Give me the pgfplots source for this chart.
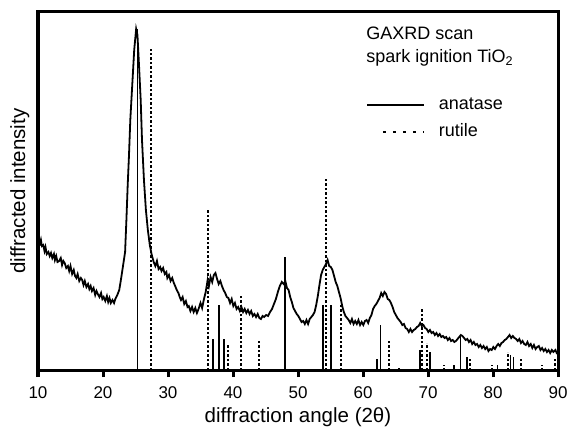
\documentclass[border=0pt]{standalone}
\usepackage{pgfplots}
\pgfplotsset{compat=1.18}
\usepackage{fontspec}
\setmainfont{Liberation Sans}
\begin{document}
\fontsize{18bp}{22bp}\selectfont
\begin{tikzpicture}
\begin{axis}[
  scale only axis, width=520bp, height=358bp,
  xmin=10, xmax=90, ymin=0, ymax=358,
  xtick={10,20,...,90}, ytick=\empty,
  xtick pos=left, tick align=outside,
  major tick length=7bp,
  every tick/.style={black, line width=3bp},
  axis line style={line width=3bp},
  /pgf/number format/assume math mode=true,
  xticklabel style={font=\fontsize{17bp}{20bp}\selectfont, inner sep=0pt,
    text height=12.2bp, text depth=0pt, anchor=north, yshift=-9bp},
  label style={font=\fontsize{20.5bp}{24bp}\selectfont},
  xlabel={diffraction angle (2θ)},
  ylabel={diffracted intensity},
  xlabel style={at={(axis description cs:0.5,-0.148)}, anchor=base},
  ylabel style={at={(axis description cs:-0.025,0.5)}, anchor=base},
  legend style={draw=none, fill=none, inner sep=0pt,
    at={(axis description cs:0.631,0.778)}, anchor=north west,
    font=\fontsize{18bp}{22bp}\selectfont,
    nodes={inner sep=0pt, text height=18.2bp, text depth=8.8bp}, row sep=0pt,
    /tikz/every odd column/.append style={column sep=14bp}},
  legend cell align=left,
]
\addplot[black, line width=1.8bp, forget plot] coordinates {
(10.0,135)(10.15,127)(10.3,126)(10.45,130)(10.6,124)(10.8,125)(11.0,119)(11.15,123)(11.35,116)(11.6,118)(11.8,114)(12.0,117)(12.2,112)(12.45,116)(12.6,110)
(12.8,114)(13.0,108)(13.25,109)(13.5,112)(13.7,105)(13.9,109)(14.1,107)(14.35,102)(14.6,104)(14.8,99)(15.0,104)(15.25,96)(15.5,100)
(15.7,94)(15.9,92)(16.1,96)(16.35,89)(16.6,92)(16.8,90)(17.0,85)(17.2,89)(17.45,83)(17.7,86)(17.9,81)(18.1,84)(18.3,79)(18.55,82)
(18.8,75)(19.0,79)(19.2,76)(19.45,73)(19.7,77)(19.9,71)(20.1,73)(20.35,69)(20.6,74)(20.8,68)(21.0,72)(21.2,67)(21.45,70)(21.7,67)
(21.9,71)(22.2,75)(22.5,80)(22.8,92)(23.1,105)(23.4,118)(23.6,150)(23.8,185)(24.0,215)(24.2,250)
(24.5,285)(24.8,320)(25.1,341)(25.3,335)(25.5,310)(25.8,270)(26.0,230)(26.3,190)(26.6,160)(26.9,140)
(27.2,125)(27.5,115)(27.8,108)(28.05,104)(28.3,109)(28.55,101)(28.8,103)(29.0,99)(29.25,102)(29.5,96)(29.75,98)(29.9,92)
(30.15,95)(30.4,89)(30.65,92)(30.9,87)(31.1,84)(31.35,80)(31.6,77)(31.8,73)(32.0,70)(32.25,73)(32.5,66)(32.75,69)
(33.0,63)(33.2,64)(33.45,59)(33.7,63)(33.95,58)(34.2,62)(34.45,57)(34.7,61)(35.0,67)(35.25,62)(35.5,70)(35.8,78)
(36.1,90)(36.3,84)(36.55,93)(36.8,88)(37.05,95)(37.3,97)(37.55,91)(37.8,86)(38.05,89)(38.3,84)(38.55,80)
(38.8,77)(39.05,73)(39.3,72)(39.55,67)(39.8,71)(40.05,64)(40.3,67)(40.55,61)(40.8,63)(41.05,59)(41.3,63)(41.55,58)
(41.8,61)(42.05,57)(42.3,60)(42.55,56)(42.8,59)(43.05,54)(43.3,56)(43.55,53)(43.8,56)(44.05,52)(44.3,51)(44.55,54)
(44.8,53)(45.1,55)(45.4,54)(45.7,58)(46.0,61)(46.3,66)(46.6,71)(46.9,78)(47.2,84)(47.5,88)
(47.8,86)(48.05,89)(48.3,82)(48.55,80)(48.8,73)(49.05,68)(49.3,62)(49.55,59)(49.8,56)(50.05,54)(50.3,51)(50.55,48)
(50.8,49)(51.05,46)(51.3,50)(51.55,46)(51.8,51)(52.05,53)(52.3,55)(52.55,58)(52.8,65)(53.05,74)(53.3,85)(53.55,95)
(53.8,100)(54.05,103)(54.3,106)(54.55,110)(54.8,104)(55.05,103)(55.3,100)(55.55,94)(55.8,88)(56.05,84)(56.3,78)(56.55,72)
(56.8,64)(57.05,58)(57.3,54)(57.55,52)(57.8,50)(58.05,47)(58.3,51)(58.55,46)(58.8,49)(59.05,46)(59.3,50)(59.55,45)
(59.8,48)(60.05,45)(60.3,49)(60.55,50)(60.8,47)(61.05,52)(61.3,55)(61.55,61)(61.8,64)(62.05,66)(62.3,69)(62.55,72)
(62.8,77)(63.05,74)(63.3,78)(63.55,76)(63.8,71)(64.05,70)(64.3,67)(64.55,63)(64.8,58)(65.05,55)(65.3,52)(65.55,50)
(65.8,48)(66.05,45)(66.3,46)(66.55,42)(66.8,41)(67.05,38)(67.3,41)(67.55,38)(67.8,40)(68.05,41)(68.3,43)(68.55,44)
(68.8,47)(69.05,44)(69.3,45)(69.55,42)(69.8,41)(70.05,38)(70.3,40)(70.55,37)(70.8,38)(71.05,35)(71.3,37)(71.55,34)
(71.8,36)(72.05,33)(72.3,34)(72.55,32)(72.8,33)(73.05,30)(73.3,32)(73.55,29)(73.8,30)(74.05,28)(74.3,29)(74.55,31)
(74.8,33)(75.05,35)(75.3,34)(75.55,32)(75.8,30)(76.05,31)(76.3,28)(76.55,30)(76.8,26)(77.05,28)(77.3,25)(77.55,26)
(77.8,23)(78.05,25)(78.3,22)(78.55,24)(78.8,21)(79.05,23)(79.3,19)(79.55,21)(79.8,20)(80.05,23)(80.3,21)(80.55,24)
(80.8,26)(81.05,24)(81.3,27)(81.55,28)(81.8,30)(82.05,31)(82.3,33)(82.55,35)(82.8,32)(83.05,34)(83.3,32)(83.55,31)
(83.8,29)(84.05,31)(84.3,27)(84.55,29)(84.8,26)(85.05,25)(85.3,28)(85.55,24)(85.8,26)(86.05,22)(86.3,25)(86.55,21)
(86.8,23)(87.05,24)(87.3,20)(87.55,22)(87.8,19)(88.05,21)(88.3,18)(88.55,20)(88.8,17)(89.05,20)(89.3,18)(89.6,20)
(89.8,17)(90.0,18)
};
\addplot[black, line width=1.8bp, ycomb,
  legend image code/.code={\draw[black, line width=1.6bp] (0bp,0bp) -- (57bp,0bp);}]
coordinates {
(25.3,341)(36.95,31)(37.8,65)(38.6,31)(48.05,113)(53.9,65)(55.06,65)(62.1,11)(62.7,45)
(68.8,20)(70.3,18)(74.0,5)(75.0,35)(76.0,13)(80.7,5)(82.7,15)(83.15,13)
};
\addlegendentry{anatase}
\addplot[black, line width=2bp, ycomb, dash pattern=on 2.5bp off 2bp,
  legend image code/.code={\draw[black, line width=1.6bp, dash pattern=on 3bp off 7bp] (16bp,0bp) -- (57bp,0bp);}]
coordinates {
(27.45,321)(36.1,161)(39.2,25)(41.2,76)(44.05,30)(54.3,191)(56.6,65)(64.0,31)(65.5,4)
(69.0,61)(69.8,27)(72.4,5)(76.5,13)(79.8,5)(82.3,18)(84.3,11)(87.5,5)(89.6,11)
};
\addlegendentry{rutile}
\node[anchor=north west, align=left, inner sep=0pt, font=\fontsize{18bp}{23bp}\selectfont]
  at (axis description cs:0.631,0.958) {GAXRD scan\\spark ignition TiO\textsubscript{2}};
\end{axis}
\path (current axis.south west) ++(-38bp,-60bp);
\path (current axis.north east) ++(14bp,12bp);
\end{tikzpicture}
\end{document}
